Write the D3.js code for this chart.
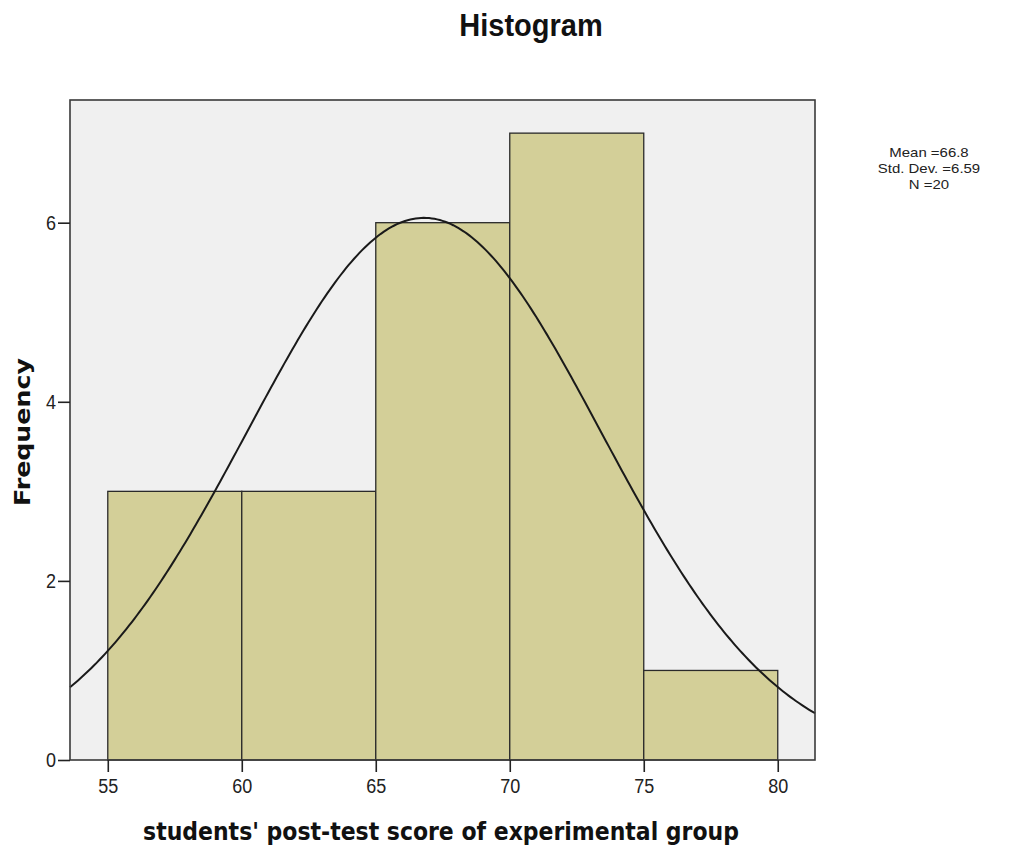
<!DOCTYPE html>
<html><head><meta charset="utf-8">
<script src="https://cdn.jsdelivr.net/npm/d3@7"></script>
<style>body{margin:0;background:#fff;} svg{display:block;}</style>
</head><body>
<svg id="c" width="1016" height="850"></svg>
<script>
// Data
const binStarts = [55, 60, 65, 70, 75];
const binEnds   = [60, 65, 70, 75, 80];
const counts    = [3, 3, 6, 7, 1];
const xTicks = [55, 60, 65, 70, 75, 80];
const yTicks = [0, 2, 4, 6];
const statMean = 66.8, statSD = 6.59, statN = 20;
const statLines = ["Mean =66.8", "Std. Dev. =6.59", "N =20"];

const svg = d3.select("#c");
const L = 70, R = 815, T = 100, B = 760;
const SY = 1.15; // vertical text stretch seen in reference
const x = d3.scaleLinear().domain([53.59, 81.39]).range([L, R]);
const y = d3.scaleLinear().domain([0, 7.37]).range([B, T]);
const sans = "'Liberation Sans', Arial, sans-serif";
const bold = "'DejaVu Sans', Verdana, sans-serif";

svg.append("rect").attr("x", L).attr("y", T).attr("width", R-L).attr("height", B-T)
  .attr("fill", "#f0f0f0");

// bars
svg.selectAll("rect.bar").data(counts).enter().append("rect")
  .attr("class","bar")
  .attr("x", (d,i)=>x(binStarts[i]))
  .attr("width", (d,i)=>x(binEnds[i])-x(binStarts[i]))
  .attr("y", d=>y(d))
  .attr("height", d=>B-y(d))
  .attr("fill", "#d3cf98").attr("stroke", "#2a2a2a").attr("stroke-width", 1.3);

// normal curve from displayed stats
const bw = 5;
const pts = d3.range(x.domain()[0], x.domain()[1]+0.001, 0.1).map(v=>[v,
  statN*bw/(statSD*Math.sqrt(2*Math.PI))*Math.exp(-0.5*((v-statMean)/statSD)**2)]);
svg.append("path").datum(pts)
  .attr("d", d3.line().x(d=>x(d[0])).y(d=>y(d[1])))
  .attr("fill","none").attr("stroke","#1a1a1a").attr("stroke-width",2);

// frame
svg.append("rect").attr("x", L).attr("y", T).attr("width", R-L).attr("height", B-T)
  .attr("fill", "none").attr("stroke", "#3a3a3a").attr("stroke-width", 1.6);

// axes
const xa = svg.append("g").attr("transform", `translate(0,${B})`)
  .call(d3.axisBottom(x).tickValues(xTicks).tickSize(12).tickFormat(d3.format("d")));
const ya = svg.append("g").attr("transform", `translate(${L},0)`)
  .call(d3.axisLeft(y).tickValues(yTicks).tickSize(12).tickFormat(d3.format("d")));
[xa, ya].forEach(g=>{
  g.select(".domain").remove();
  g.selectAll("line").attr("stroke","#222").attr("stroke-width",1.6);
  g.selectAll("text").attr("font-family", sans)
    .attr("font-size", 18).attr("fill","#222").attr("dy", 0)
    .attr("transform", `scale(1,${SY})`);
});
xa.selectAll("text").attr("y", 33/SY);
ya.selectAll("text").attr("x", -14).attr("y", 6.5/SY);

// title
svg.append("text").attr("transform", `translate(531,36) scale(1,1.1)`).attr("text-anchor","middle")
  .attr("font-family", sans).attr("font-weight","bold")
  .attr("font-size", 29).attr("fill","#111").text("Histogram");

// axis labels
svg.append("text").attr("transform", `translate(441,840) scale(1,${SY})`).attr("text-anchor","middle")
  .attr("font-family", bold).attr("font-weight","bold")
  .attr("font-size", 22).attr("fill","#111").text("students' post-test score of experimental group");
svg.append("text").attr("transform", `translate(30,432) scale(1,${SY}) rotate(-90)`).attr("text-anchor","middle")
  .attr("font-family", bold).attr("font-weight","bold")
  .attr("font-size", 22).attr("fill","#111").text("Frequency");

// stats
svg.append("g").selectAll("text").data(statLines).enter().append("text")
  .attr("transform", (d,i)=>`translate(929,${157+i*16.2}) scale(1.1,1)`).attr("text-anchor","middle")
  .attr("font-family", sans)
  .attr("font-size", 13.6).attr("fill","#222").text(d=>d);
</script>
</body></html>
